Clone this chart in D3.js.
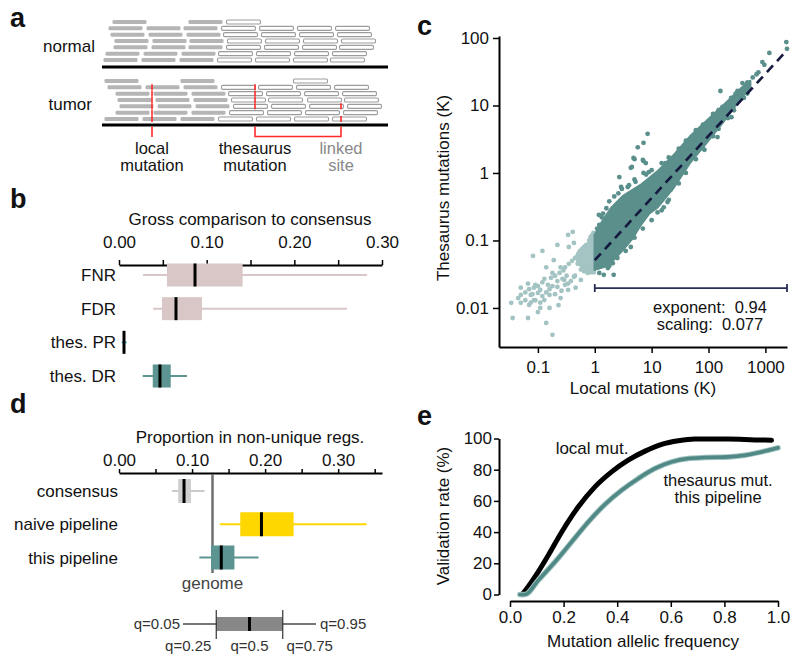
<!DOCTYPE html>
<html><head><meta charset="utf-8">
<script src="https://cdn.jsdelivr.net/npm/d3@7/dist/d3.min.js"></script>
<style>
body{margin:0;background:#fff;}
svg{font-family:"Liberation Sans",Arial,Helvetica,sans-serif;}
text{fill:#111;}
</style></head>
<body>
<svg id="fig" width="800" height="665"></svg>
<script>
// ---------------- DATA ----------------
// panel a: reads [start, type] type 0 = grey (local), 1 = white (repeat copy)
const normalReads = [
 [[12,0],[88,0],[126,1]],
 [[8,0],[46,0],[83,0],[121,1],[159,1],[197,1],[235,1]],
 [[10,0],[48,0],[86,0],[123,1],[161,1],[199,1],[237,1]],
 [[14,0],[52,0],[89,0],[127,1],[165,1],[203,1],[241,1]],
 [[13,0],[51,0],[88,0],[126,1],[164,1],[202,1],[239,1]],
 [[5,0],[43,0],[81,0],[118,1],[156,1],[194,1],[232,1]],
 [[3,0],[41,0],[79,0],[117,1],[155,1],[193,1],[230,1]]
];
const tumorReads = [
 [[4,0],[80,0],[193,1]],
 [[7,0],[45,0],[83,0],[121,1],[158,1],[196,1],[234,1]],
 [[15,0],[53,0],[91,0],[128,1],[166,1],[204,1],[242,1]],
 [[17,0],[55,0],[93,0],[131,1],[168,1],[207,1],[244,1]],
 [[19,0],[57,0],[95,0],[133,1],[171,1],[209,1],[247,1]],
 [[15,0],[53,0],[91,0],[129,1],[167,1],[205,1],[243,1]],
 [[4,0],[42,0],[80,0],[118,1],[156,1],[194,1],[232,1]]
];
const readLength = 35;
const localMut = {pos:52, rows:[1,2,3,4,5,6]};
const thesMut = {pos:155, rows:[1,2,3,4]};
const linkedSite = {pos:241, rows:[4,6]};

// panel b: [whiskerLow, q25, median, q75, whiskerHigh]
const bCategories = ["FNR","FDR","thes. PR","thes. DR"];
const bStats = [
 [0.0274,0.0547,0.0867,0.141,0.283],
 [0.039,0.049,0.065,0.0946,0.26],
 [0.003,0.0052,0.0057,0.0062,0.009],
 [0.027,0.0385,0.0467,0.059,0.0775]
];
const bTicks = [0,0.05,0.1,0.15,0.2,0.25,0.3];
const bTickLabels = ["0.00","","0.10","","0.20","","0.30"];

// panel d
const dCategories = ["consensus","naive pipeline","this pipeline"];
const dStats = [
 [0.0726,0.081,0.089,0.0986,0.117],
 [0.138,0.166,0.195,0.239,0.339],
 [0.110,0.126,0.140,0.158,0.191]
];
const genomeValue = 0.128;
const dTicks = [0,0.05,0.1,0.15,0.2,0.25,0.3,0.35];
const dTickLabels = ["0.00","","0.10","","0.20","","0.30",""];
const legendQuantiles = ["q=0.05","q=0.25","q=0.5","q=0.75","q=0.95"];

// panel c
const cXTicks = [0.1,1,10,100,1000];
const cXTickLabels = ["0.1","1","10","100","1000"];
const cYTicks = [0.01,0.1,1,10,100];
const cYTickLabels = ["0.01","0.1","1","10","100"];
const cLightPoints = [
 [0.41,0.134],[0.34,0.121],[0.22,0.086],[0.35,0.080],[0.43,0.092],[0.12,0.070],[0.082,0.059],
 [0.19,0.051],[0.14,0.040],[0.25,0.040],[0.18,0.033],[0.050,0.020],[0.067,0.023],[0.085,0.020],
 [0.11,0.0185],[0.075,0.0156],[0.050,0.0156],[0.034,0.0119],[0.050,0.0119],[0.070,0.0111],
 [0.10,0.0087],[0.036,0.0071],[0.067,0.0071],[0.14,0.0060],[0.18,0.0040],[0.11,0.010],[0.16,0.010],
 [0.23,0.011],[0.25,0.014],[0.34,0.0185],[0.46,0.020],[0.57,0.026],[0.75,0.033],[0.64,0.043],
 [0.29,0.026],[0.22,0.0205],[0.16,0.0156],[0.13,0.0131],[0.085,0.0131],[0.10,0.0167],[0.34,0.023],
 [0.43,0.029],[0.57,0.037],[0.79,0.055],[0.92,0.068],[0.96,0.092],[0.70,0.065],
 [0.06,0.017],[0.07,0.019],[0.08,0.016],[0.09,0.022],[0.10,0.021],[0.12,0.024],[0.13,0.027],
 [0.15,0.022],[0.17,0.028],[0.2,0.03],[0.24,0.033],[0.28,0.036],[0.3,0.04],[0.35,0.045],[0.4,0.05],
 [0.45,0.055],[0.5,0.06],[0.55,0.07],[0.6,0.075],[0.65,0.08],[0.7,0.085],[0.8,0.1],[0.85,0.11],
 [0.9,0.12],[0.95,0.13],[0.5,0.045],[0.6,0.05],[0.7,0.055],[0.8,0.06],[0.9,0.05],[0.95,0.045],
 [0.85,0.04],[0.65,0.035],[0.45,0.03],[0.38,0.025],[0.3,0.022],[0.26,0.018],[0.2,0.016],
 [0.09,0.013],[0.075,0.012],[0.06,0.013],[0.045,0.014],[0.11,0.012],[0.14,0.017],[0.16,0.019],
 [0.18,0.021],[0.22,0.025],[0.27,0.027],[0.32,0.03],[0.12,0.015],[0.85,0.113]
];
const cLightCore = [[0.5,0.065],[0.65,0.08],[0.8,0.095],[0.99,0.115],[0.99,0.033],[0.8,0.033],[0.65,0.037],[0.5,0.048]];
const cDarkUpper = [[1.0,0.12],[1.3,0.18],[2,0.31],[3.2,0.46],[6.4,0.66],[12.7,1.05],[24,1.8],[48,3.5],[95,6.0],[183,10],[364,17.5],[540,23]];
const cDarkLower = [[540,18.5],[364,12.5],[183,5.8],[95,2.9],[48,1.45],[24,0.6],[12.7,0.31],[9,0.25],[6.4,0.17],[4.5,0.105],[3.2,0.075],[2.2,0.053],[1.5,0.041],[1.0,0.037]];
const cDarkPoints = [
 [2335,87],[2400,69],[1175,60],[886,44],[960,40],[754,31],[483,22],[395,21.5],[323,16.4],[162,16.4],
 [253,6.7],[176,9.5],[89,4.8],[85,2.2],[144,3.4],[8.5,3.8],[7.2,2.8],[5.7,2.4],[5.0,1.6],[7.0,1.56],
 [7.9,1.4],[4.3,1.19],[2.7,0.87],[3.8,0.62],[2.9,0.62],[5.2,0.74],[1.33,0.22],[19,0.37],[12.7,0.26],
 [1.7,0.039],[2.07,0.046],[1.44,0.031],[2.15,0.031],[4.3,0.080],[16.3,0.31],[21.5,0.56],[1.18,0.24],
 [17.6,1.4],[7.2,1.5],[8.9,1.03],[7.2,1.0],[4.8,1.67],[4.5,1.23],
 [1.1,0.15],[1.2,0.17],[1.4,0.25],[1.6,0.3],[1.8,0.38],[2.2,0.45],[2.6,0.5],[3,0.58],[4,0.66],
 [5,0.8],[8,0.95],[10,1.1],[15,1.4],[20,1.7],[30,2.3],[40,3.0],[60,4.3],[80,5.2],[120,7.5],
 [150,8.5],[250,13],[300,15],[450,20],[600,26],[700,29],
 [1.2,0.033],[1.8,0.042],[2.5,0.055],[3.5,0.07],[5,0.11],[7,0.15],[10,0.2],[15,0.28],[20,0.4],
 [30,0.7],[40,1.0],[60,1.6],[80,2.3],[120,3.5],[150,4.5],[220,6.5],[280,8.5],[420,13],[480,15]
];
const cFitLine = [[1,0.051],[2400,66]];
const cFitRange = [1,2400];
const cFitLabels = ["exponent:  0.94","scaling:  0.077"];

// panel e
const eTicksX = [0,0.2,0.4,0.6,0.8,1.0];
const eTickLabelsX = ["0.0","0.2","0.4","0.6","0.8","1.0"];
const eTicksY = [0,20,40,60,80,100];
const eLocalX = [0.045,0.050,0.093,0.143,0.193,0.255,0.317,0.379,0.441,0.504,0.566,0.628,0.690,0.815,0.914,0.976];
const eLocalY = [0,1,11.3,25.2,40.1,56.2,69.0,78.6,86.1,91.9,96.2,98.5,99.6,99.6,99.1,98.9];
const eThesX = [0.037,0.056,0.106,0.168,0.230,0.292,0.354,0.417,0.479,0.541,0.603,0.665,0.728,0.815,0.877,0.939,1.0];
const eThesY = [0,0,9.2,20.9,33.7,46.5,57.7,66.9,74.4,80.8,85.0,87.2,87.8,88.2,89.3,91.4,94.0];

// ---------------- DRAW ----------------
const svg = d3.select("#fig");
const FS = 17;
const TEAL = "#5b9490", TEAL_DARK = "#4f8884";
function txt(g,x,y,s,opt={}){
  const t=g.append("text").attr("x",x).attr("y",y).text(s)
   .attr("font-size",opt.size||FS).attr("text-anchor",opt.anchor||"start");
  if(opt.fill) t.style("fill",opt.fill);
  if(opt.weight) t.attr("font-weight",opt.weight);
  if(opt.pre) t.style("white-space","pre");
  return t;
}
// panel letters
[["a",10,27],["b",10,208],["c",417,35],["d",10,413],["e",417,425]].forEach(p=>
  txt(svg,p[1],p[2],p[0],{size:27,weight:"bold"}));

// ---- panel a ----
const gA = svg.append("g");
const xA = d3.scaleLinear().domain([0,290]).range([100,390]);
const rowN = d3.scaleLinear().domain([0,6]).range([22,60]);
const rowT = d3.scaleLinear().domain([0,6]).range([81,119]);
function drawReads(rows,rowY){
  rows.forEach((row,i)=>{
    gA.selectAll(null).data(row).enter().append("rect")
      .attr("x",d=>xA(d[0])+0.5).attr("y",rowY(i)-2)
      .attr("width",xA(readLength)-xA(0)-1).attr("height",4).attr("rx",1.3)
      .attr("fill",d=>d[1]===0?"#b5b5b5":"#fff")
      .attr("stroke",d=>d[1]===0?"none":"#9c9c9c").attr("stroke-width",1.1);
  });
}
drawReads(normalReads,rowN);
drawReads(tumorReads,rowT);
gA.append("line").attr("x1",102).attr("x2",388).attr("y1",67).attr("y2",67).attr("stroke","#000").attr("stroke-width",3);
gA.append("line").attr("x1",102).attr("x2",388).attr("y1",125).attr("y2",125).attr("stroke","#000").attr("stroke-width",3);
const RED="#ff2a2a";
[localMut,thesMut,linkedSite].forEach(m=>{
  m.rows.forEach(r=>gA.append("line").attr("x1",xA(m.pos)).attr("x2",xA(m.pos))
    .attr("y1",rowT(r)-3).attr("y2",rowT(r)+3).attr("stroke",RED).attr("stroke-width",1.6));
});
gA.append("line").attr("x1",xA(localMut.pos)).attr("x2",xA(localMut.pos)).attr("y1",126.5).attr("y2",137).attr("stroke",RED).attr("stroke-width",1.6);
gA.append("path").attr("d",`M${xA(thesMut.pos)},126.5V136.5H${xA(linkedSite.pos)}V126.5`).attr("fill","none").attr("stroke",RED).attr("stroke-width",1.6);
txt(gA,95,52,"normal",{anchor:"end"});
txt(gA,92,110,"tumor",{anchor:"end"});
const AF = 16.5;
txt(gA,xA(localMut.pos),154,"local",{anchor:"middle",size:AF});
txt(gA,xA(localMut.pos),171,"mutation",{anchor:"middle",size:AF});
txt(gA,xA(thesMut.pos),154,"thesaurus",{anchor:"middle",size:AF});
txt(gA,xA(thesMut.pos),171,"mutation",{anchor:"middle",size:AF});
txt(gA,xA(linkedSite.pos),154,"linked",{anchor:"middle",fill:"#888",size:AF});
txt(gA,xA(linkedSite.pos),171,"site",{anchor:"middle",fill:"#888",size:AF});

// ---- box plot helper ----
function boxplot(g,stats,xs,yc,h,fill,whisker){
  g.append("line").attr("x1",xs(stats[0])).attr("x2",xs(stats[4])).attr("y1",yc).attr("y2",yc)
    .attr("stroke",whisker).attr("stroke-width",2);
  g.append("rect").attr("x",xs(stats[1])).attr("y",yc-h/2).attr("width",Math.max(1,xs(stats[3])-xs(stats[1]))).attr("height",h)
    .attr("fill",fill);
  g.append("line").attr("x1",xs(stats[2])).attr("x2",xs(stats[2])).attr("y1",yc-h/2).attr("y2",yc+h/2)
    .attr("stroke","#000").attr("stroke-width",3);
}
function styleAxis(g,w){
  g.select(".domain").attr("stroke","#000").attr("stroke-width",w);
  g.selectAll(".tick line").attr("stroke","#000").attr("stroke-width",1.5);
  g.selectAll(".tick text").attr("font-size",FS).attr("font-family",null).style("fill","#111");
  g.attr("font-family",null);
}

// ---- panel b ----
const gB = svg.append("g");
const xB = d3.scaleLinear().domain([0,0.3]).range([119,382]);
const yB = d3.scalePoint().domain(bCategories).range([275,376]);
const axB = gB.append("g").attr("transform","translate(0,265)")
  .call(d3.axisTop(xB).tickValues(bTicks).tickFormat((d,i)=>bTickLabels[i]).tickSizeInner(5).tickSizeOuter(0).tickPadding(12));
styleAxis(axB,2);
txt(gB,250,225,"Gross comparison to consensus",{anchor:"middle"});
const bFills = ["#d9c7c7","#d9c7c7","#3f88b5",TEAL];
const bWhisk = ["#d9c7c7","#d9c7c7","#6fc0e0",TEAL];
bCategories.forEach((c,i)=>{
  boxplot(gB,bStats[i],xB,yB(c),23,bFills[i],bWhisk[i]);
  txt(gB,116,yB(c)+6,c,{anchor:"end"});
});

// ---- panel d ----
const gD = svg.append("g");
const xD = d3.scaleLinear().domain([0,0.36]).range([119,382]);
const yD = d3.scalePoint().domain(dCategories).range([491,557.5]);
const axD = gD.append("g").attr("transform","translate(0,473)")
  .call(d3.axisTop(xD).tickValues(dTicks).tickFormat((d,i)=>dTickLabels[i]).tickSizeInner(4).tickSizeOuter(0).tickPadding(3));
styleAxis(axD,2);
txt(gD,250,443,"Proportion in non-unique regs.",{anchor:"middle"});
gD.append("line").attr("x1",xD(genomeValue)).attr("x2",xD(genomeValue)).attr("y1",474).attr("y2",573)
  .attr("stroke","#6e6e6e").attr("stroke-width",2.5);
txt(gD,xD(genomeValue),589,"genome",{anchor:"middle",fill:"#444"});
const dFills = ["#cfcfcf","#ffd700",TEAL];
const dWhisk = ["#cbcbcb","#ffd700",TEAL];
dCategories.forEach((c,i)=>{
  boxplot(gD,dStats[i],xD,yD(c),24,dFills[i],dWhisk[i]);
  txt(gD,118,yD(c)+6,c,{anchor:"end"});
});
// legend schematic
const xL = d3.scaleLinear().domain([0,4]).range([183,316]);
const gL = gD.append("g");
gL.append("line").attr("x1",xL(0)).attr("x2",xL(4)).attr("y1",624).attr("y2",624).attr("stroke","#777").attr("stroke-width",1.8);
gL.append("rect").attr("x",xL(1)).attr("y",617).attr("width",xL(3)-xL(1)).attr("height",14).attr("fill","#888");
[1,3].forEach(q=>gL.append("line").attr("x1",xL(q)).attr("x2",xL(q)).attr("y1",610).attr("y2",639).attr("stroke","#333").attr("stroke-width",1.2));
gL.append("line").attr("x1",xL(2)).attr("x2",xL(2)).attr("y1",617).attr("y2",631).attr("stroke","#000").attr("stroke-width",3);
txt(gL,xL(0)-3,629,legendQuantiles[0],{anchor:"end",size:15,fill:"#333"});
txt(gL,xL(4)+4,629,legendQuantiles[4],{anchor:"start",size:15,fill:"#333"});
txt(gL,xL(1)-28,651,legendQuantiles[1],{anchor:"middle",size:15,fill:"#333"});
txt(gL,xL(2),651,legendQuantiles[2],{anchor:"middle",size:15,fill:"#333"});
txt(gL,xL(3)+27,651,legendQuantiles[3],{anchor:"middle",size:15,fill:"#333"});

// ---- panel c ----
const gC = svg.append("g");
const xC = d3.scaleLog().domain([0.0207,2400]).range([499,787]);
const yC = d3.scaleLog().domain([0.00264,107]).range([347,36]);
const LIGHT="#a3c4c2", DARK="#5a8f8b";
gC.selectAll(".lp").data(cLightPoints).enter().append("circle")
  .attr("cx",d=>xC(d[0])).attr("cy",d=>yC(d[1])).attr("r",2.4).attr("fill",LIGHT);
const poly = d3.line().x(d=>xC(d[0])).y(d=>yC(d[1])).curve(d3.curveLinearClosed);
gC.append("path").attr("d",poly(cLightCore)).attr("fill",LIGHT).attr("stroke",LIGHT).attr("stroke-width",3).attr("stroke-linejoin","round");
gC.append("path").attr("d",poly(cDarkUpper.concat(cDarkLower))).attr("fill",DARK).attr("stroke",DARK).attr("stroke-width",2.5).attr("stroke-linejoin","round");
gC.selectAll(".dp").data(cDarkPoints).enter().append("circle")
  .attr("cx",d=>xC(d[0])).attr("cy",d=>yC(d[1])).attr("r",2.4).attr("fill",DARK);
gC.append("path").attr("d",d3.line().x(d=>xC(d[0])).y(d=>yC(d[1]))(cFitLine))
  .attr("stroke","#15183f").attr("stroke-width",2.6).attr("stroke-dasharray","9,6").attr("fill","none");
const yr = yC(0.0197);
gC.append("path").attr("d",`M${xC(cFitRange[0])},${yr}H${xC(cFitRange[1])}M${xC(cFitRange[0])},${yr-4}V${yr+4}M${xC(cFitRange[1])},${yr-4}V${yr+4}`)
  .attr("stroke","#2a2d55").attr("stroke-width",1.8).attr("fill","none");
txt(gC,710,313,cFitLabels[0],{anchor:"middle",pre:true,size:16.5});
txt(gC,710,330,cFitLabels[1],{anchor:"middle",pre:true,size:16.5});
const axCx = gC.append("g").attr("transform","translate(0,347)")
  .call(d3.axisBottom(xC).tickValues(cXTicks).tickFormat((d,i)=>cXTickLabels[i]).tickSizeInner(6).tickSizeOuter(0).tickPadding(8));
styleAxis(axCx,2);
axCx.selectAll(".tick text").attr("dy","0.71em");
const axCy = gC.append("g").attr("transform","translate(499,0)")
  .call(d3.axisLeft(yC).tickValues(cYTicks).tickFormat((d,i)=>cYTickLabels[i]).tickSizeInner(6).tickSizeOuter(0).tickPadding(4));
styleAxis(axCy,2);
txt(gC,643,394,"Local mutations (K)",{anchor:"middle"});
txt(gC,0,0,"Thesaurus mutations (K)",{anchor:"middle"}).attr("transform","translate(449,188) rotate(-90)");

// ---- panel e ----
const gE = svg.append("g");
const xE = d3.scaleLinear().domain([0,1]).range([510,778]);
const yE = d3.scaleLinear().domain([0,100]).range([594.5,438.5]);
const axEx = gE.append("g").attr("transform","translate(0,601)")
  .call(d3.axisBottom(xE).tickValues(eTicksX).tickFormat((d,i)=>eTickLabelsX[i]).tickSizeInner(6).tickSizeOuter(0).tickPadding(4));
styleAxis(axEx,2);
const axEy = gE.append("g").attr("transform","translate(499,0)")
  .call(d3.axisLeft(yE).tickValues(eTicksY).tickSizeInner(5).tickSizeOuter(0).tickPadding(2));
styleAxis(axEy,2);
const curve = d3.line().x(d=>xE(d[0])).y(d=>yE(d[1])).curve(d3.curveMonotoneX);
gE.append("path").attr("d",curve(eLocalX.map((x,i)=>[x,eLocalY[i]])))
  .attr("fill","none").attr("stroke","#000").attr("stroke-width",5).attr("stroke-linecap","round");
gE.append("path").attr("d",curve(eThesX.map((x,i)=>[x,eThesY[i]])))
  .attr("fill","none").attr("stroke","#9fc1bf").attr("stroke-width",5.5).attr("stroke-linecap","round");
gE.append("path").attr("d",curve(eThesX.map((x,i)=>[x,eThesY[i]])))
  .attr("fill","none").attr("stroke",TEAL_DARK).attr("stroke-width",3.6).attr("stroke-linecap","round");
txt(gE,592,454,"local mut.",{anchor:"middle"});
txt(gE,718,486,"thesaurus mut.",{anchor:"middle",size:16.5});
txt(gE,718,503,"this pipeline",{anchor:"middle",size:16.5});
txt(gE,643,647,"Mutation allelic frequency",{anchor:"middle"});
txt(gE,0,0,"Validation rate (%)",{anchor:"middle"}).attr("transform","translate(449,516) rotate(-90)");
</script>
</body></html>
